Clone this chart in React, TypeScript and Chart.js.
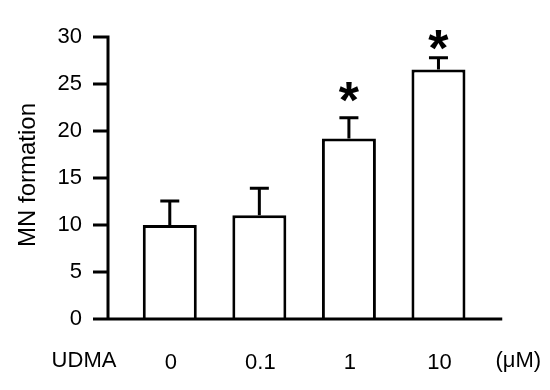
import React, { useEffect, useRef } from "react";
import { Chart, registerables } from "chart.js";

Chart.register(...registerables);

const categories = ["0", "0.1", "1", "10"];
const means = [10, 11.05, 19.2, 26.55];
const errorTops = [12.55, 13.9, 21.4, 27.8];
const starValues: (number | null)[] = [null, null, 24.2, 29.7];
const yMin = 0;
const yMax = 30;
const yStep = 5;
const xPrefix = "UDMA";
const xUnit = "(\u03bcM)";
const yTitle = "MN formation";

const FONT = "'Liberation Sans', Arial, sans-serif";

const customPlugin = {
  id: "custom",
  afterDatasetsDraw(chart: any) {
    const ctx = chart.ctx;
    const area = chart.chartArea;
    const y = chart.scales.y;
    const meta = chart.getDatasetMeta(0);
    ctx.save();
    ctx.strokeStyle = "#000";
    ctx.fillStyle = "#000";
    ctx.lineWidth = 3;
    ctx.lineCap = "butt";
    // error bars
    meta.data.forEach((el: any, i: number) => {
      const top = y.getPixelForValue(errorTops[i]);
      ctx.beginPath();
      ctx.moveTo(el.x, el.y);
      ctx.lineTo(el.x, top);
      ctx.moveTo(el.x - 9.5, top);
      ctx.lineTo(el.x + 9.5, top);
      ctx.stroke();
      const sv = starValues[i];
      if (sv != null) {
        ctx.font = `bold 52px ${FONT}`;
        const m = ctx.measureText("*");
        const asc = m.actualBoundingBoxAscent;
        const desc = m.actualBoundingBoxDescent;
        const cy = y.getPixelForValue(sv);
        ctx.textAlign = "center";
        ctx.textBaseline = "alphabetic";
        ctx.fillText("*", el.x, cy + (asc - desc) / 2);
      }
    });
    // axes
    const axisX = area.left - 17;
    const bottom = area.bottom;
    ctx.beginPath();
    ctx.moveTo(axisX, y.getPixelForValue(yMax) - 1.5);
    ctx.lineTo(axisX, bottom);
    y.ticks.forEach((t: any) => {
      const py = y.getPixelForValue(t.value);
      ctx.moveTo(axisX - 15, py);
      ctx.lineTo(axisX + 1.5, py);
    });
    ctx.moveTo(axisX - 15, bottom);
    ctx.lineTo(area.right + 19, bottom);
    ctx.stroke();
    // x-axis extra labels
    ctx.font = `22px ${FONT}`;
    ctx.textAlign = "center";
    ctx.textBaseline = "middle";
    ctx.fillText(xPrefix, axisX - 24, 361);
    ctx.fillText(xUnit, area.right + 35, 361);
    // y title
    ctx.font = `24px ${FONT}`;
    ctx.textBaseline = "alphabetic";
    ctx.translate(34.5, 175);
    ctx.rotate(-Math.PI / 2);
    ctx.fillText(yTitle, 0, 0);
    ctx.restore();
  },
};

export default function App() {
  const ref = useRef<HTMLCanvasElement>(null);
  useEffect(() => {
    document.body.style.margin = "0";
    const chart = new Chart(ref.current!, {
      type: "bar",
      data: {
        labels: categories,
        datasets: [
          {
            data: means,
            backgroundColor: "#fff",
            borderColor: "#000",
            borderWidth: 3,
            barPercentage: 0.603,
            categoryPercentage: 1,
          },
        ],
      },
      options: {
        animation: false,
        responsive: false,
        devicePixelRatio: 1,
        layout: { padding: { top: 37, left: 0, right: 66.75, bottom: 0 } },
        plugins: { legend: { display: false }, tooltip: { enabled: false } },
        scales: {
          x: {
            grid: { display: false, drawTicks: false },
            border: { display: false },
            ticks: {
              color: "#000",
              font: { family: FONT, size: 22 },
              padding: 31,
              labelOffset: 1,
              maxRotation: 0,
            },
            afterFit: (s: any) => {
              s.height = 71;
              s.paddingLeft = 0;
              s.paddingRight = 0;
            },
          },
          y: {
            min: yMin,
            max: yMax,
            grid: { display: false, drawTicks: false },
            border: { display: false },
            ticks: {
              stepSize: yStep,
              color: "#000",
              font: { family: FONT, size: 22 },
              padding: 43,
            },
            afterFit: (s: any) => {
              s.width = 125;
              s.paddingTop = 0;
              s.paddingBottom = 0;
            },
          },
        },
      },
      plugins: [customPlugin],
    });
    return () => chart.destroy();
  }, []);
  return (
    <div style={{ position: "absolute", left: 0, top: 0, width: 550, height: 390 }}>
      <canvas ref={ref} width={550} height={390} />
    </div>
  );
}
